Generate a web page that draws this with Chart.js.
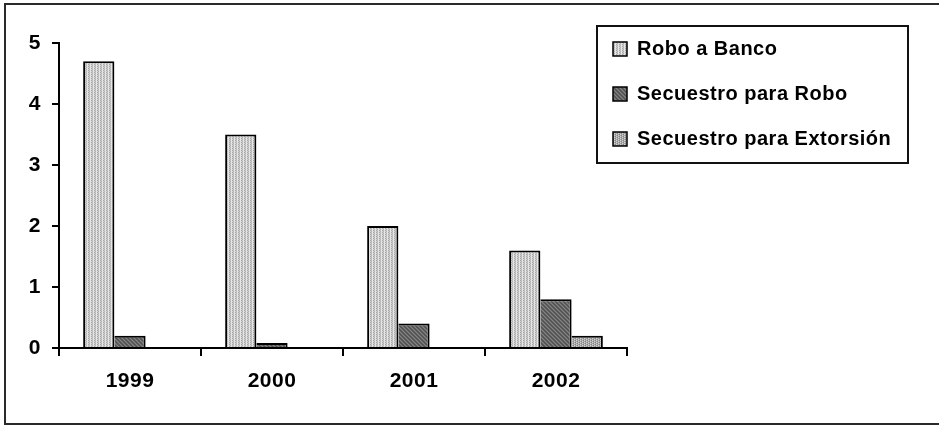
<!DOCTYPE html>
<html>
<head>
<meta charset="utf-8">
<script src="https://cdn.jsdelivr.net/npm/chart.js@4.4.1/dist/chart.umd.min.js"></script>
<style>
  html, body { margin: 0; padding: 0; background: #fff; }
  #wrap { position: relative; width: 939px; height: 426px; }
</style>
</head>
<body>
<div id="wrap"><canvas id="c"></canvas></div>
<script>
// Years on the category axis
const years = ['1999', '2000', '2001', '2002'];
// Series names
const seriesNames = ['Robo a Banco', 'Secuestro para Robo', 'Secuestro para Extorsión'];
// Values per series, one per year
const roboBanco = [4.7, 3.5, 2.0, 1.6];
const secuestroRobo = [0.2, 0.08, 0.4, 0.8];
const secuestroExtorsion = [0, 0, 0, 0.2];
// Value-axis tick labels
const yTicks = [0, 1, 2, 3, 4, 5];

const FONT = "'Liberation Sans', Arial, Helvetica, sans-serif";

// Small repeating textures used as bar fills
function makePattern(w, h, base, pixels) {
  const c = document.createElement('canvas');
  c.width = w; c.height = h;
  const g = c.getContext('2d');
  g.fillStyle = base;
  g.fillRect(0, 0, w, h);
  pixels.forEach(([x, y, col]) => { g.fillStyle = col; g.fillRect(x, y, 1, 1); });
  return g.createPattern(c, 'repeat');
}

const ctx = document.getElementById('c').getContext('2d');

const fillLight = makePattern(3, 2, '#cccccc', [
  [0, 0, '#e8e8e8'], [0, 1, '#e4e4e4'],
  [1, 0, '#a6a6a6'], [1, 1, '#d2d2d2'],
  [2, 0, '#c6c6c6'], [2, 1, '#b2b2b2']
]);
const fillDark = makePattern(4, 4, '#646464', [
  [0, 0, '#848484'], [1, 1, '#848484'], [2, 2, '#848484'], [3, 3, '#848484'],
  [2, 0, '#505050'], [3, 1, '#505050'], [0, 2, '#505050'], [1, 3, '#505050']
]);
const fillMid = makePattern(4, 4, '#a8a8a8', [
  [0, 0, '#d4d4d4'], [2, 1, '#d4d4d4'], [0, 2, '#d4d4d4'], [2, 3, '#d4d4d4'],
  [1, 1, '#848484'], [3, 0, '#848484'], [1, 3, '#848484'], [3, 2, '#848484']
]);

// Text spacing, legend placement and the framing rectangles
const framePlugin = {
  id: 'frame',
  beforeUpdate(chart) { chart.ctx.letterSpacing = '0.5px'; },
  beforeDraw(chart) { chart.ctx.letterSpacing = '0.5px'; },
  afterLayout(chart) {
    const lg = chart.legend;
    lg.left = 588; lg.top = 14;
    lg.right = lg.left + 345; lg.bottom = lg.top + 300;
  },
  afterDraw(chart) {
    const c = chart.ctx;
    c.save();
    c.strokeStyle = '#111';
    c.lineWidth = 2;
    c.strokeRect(597, 26, 311, 137);
    c.strokeStyle = '#2a2a2a';
    c.strokeRect(5, 4, 950, 420);
    c.restore();
  }
};

// Neighbouring bars share a single outline
const firstBorder = { top: 2, right: 2, bottom: 0, left: 2 };
const nextBorder = { top: 2, right: 2, bottom: 0, left: 0 };

new Chart(ctx, {
  type: 'bar',
  data: {
    labels: years,
    datasets: [
      { label: seriesNames[0], data: roboBanco, backgroundColor: fillLight, borderWidth: firstBorder },
      { label: seriesNames[1], data: secuestroRobo, backgroundColor: fillDark, borderWidth: nextBorder },
      { label: seriesNames[2], data: secuestroExtorsion, backgroundColor: fillMid, borderWidth: nextBorder }
    ]
  },
  options: {
    responsive: true,
    maintainAspectRatio: false,
    animation: false,
    events: [],
    layout: { padding: { left: 0, top: 43, right: 312, bottom: 0 } },
    datasets: {
      bar: { barPercentage: 1.0, categoryPercentage: 0.66, borderColor: '#000', borderSkipped: false }
    },
    plugins: {
      tooltip: { enabled: false },
      legend: {
        position: 'chartArea',
        align: 'start',
        labels: {
          color: '#000',
          font: { family: FONT, size: 20, weight: 'bold' },
          boxWidth: 14,
          boxHeight: 14,
          padding: 25,
          generateLabels(chart) {
            const items = Chart.defaults.plugins.legend.labels.generateLabels(chart);
            items.forEach(it => { it.lineWidth = 1.5; it.strokeStyle = '#000'; });
            return items;
          }
        }
      }
    },
    scales: {
      x: {
        offset: true,
        grid: { offset: true, drawOnChartArea: false, tickLength: 8, color: '#000', lineWidth: 2 },
        border: { color: '#000', width: 2 },
        ticks: { color: '#000', font: { family: FONT, size: 21, weight: 'bold' }, padding: 13, maxRotation: 0 },
        afterFit(s) { s.height = 78; }
      },
      y: {
        min: 0,
        max: 5,
        afterBuildTicks(s) { s.ticks = yTicks.map(v => ({ value: v })); },
        grid: { drawOnChartArea: false, tickLength: 7, color: '#000', lineWidth: 2 },
        border: { color: '#000', width: 2 },
        ticks: { color: '#000', font: { family: FONT, size: 21, weight: 'bold' }, padding: 11 },
        afterFit(s) { s.width = 59; }
      }
    }
  },
  plugins: [framePlugin]
});
</script>
</body>
</html>
